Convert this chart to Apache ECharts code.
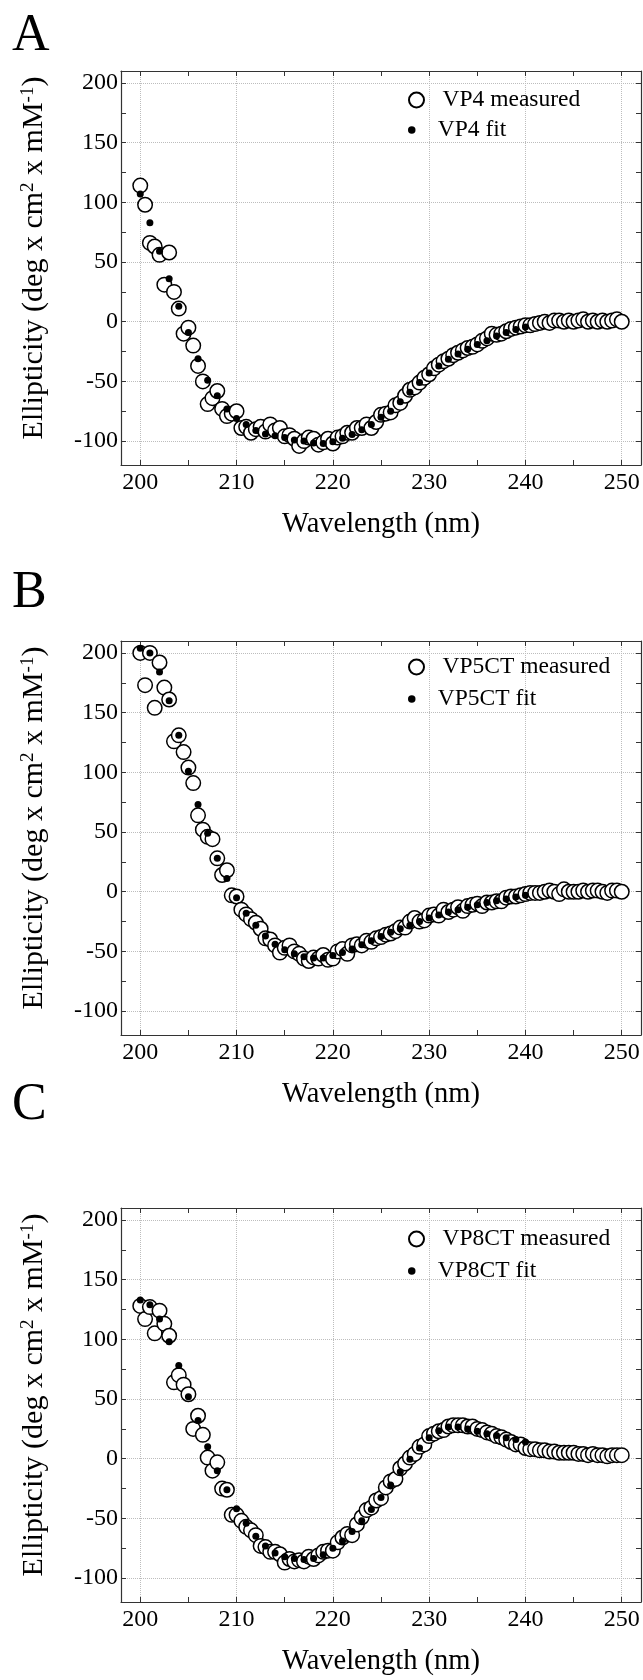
<!DOCTYPE html>
<html>
<head>
<meta charset="utf-8">
<title>CD spectra</title>
<script src="https://cdn.jsdelivr.net/npm/echarts@6/dist/echarts.min.js"></script>
<style>
  html, body { margin: 0; padding: 0; background: #fff; }
  #chart { width: 643px; height: 1680px; }
</style>
</head>
<body>
<div id="chart"></div>
<script>
// wavelengths (nm) of the measured spectra, 0.5 nm steps
var wlMeasured = [
  200, 200.5, 201, 201.5, 202, 202.5, 203, 203.5, 204, 204.5,
  205, 205.5, 206, 206.5, 207, 207.5, 208, 208.5, 209, 209.5,
  210, 210.5, 211, 211.5, 212, 212.5, 213, 213.5, 214, 214.5,
  215, 215.5, 216, 216.5, 217, 217.5, 218, 218.5, 219, 219.5,
  220, 220.5, 221, 221.5, 222, 222.5, 223, 223.5, 224, 224.5,
  225, 225.5, 226, 226.5, 227, 227.5, 228, 228.5, 229, 229.5,
  230, 230.5, 231, 231.5, 232, 232.5, 233, 233.5, 234, 234.5,
  235, 235.5, 236, 236.5, 237, 237.5, 238, 238.5, 239, 239.5,
  240, 240.5, 241, 241.5, 242, 242.5, 243, 243.5, 244, 244.5,
  245, 245.5, 246, 246.5, 247, 247.5, 248, 248.5, 249, 249.5,
  250
];
// wavelengths of the fitted curves, 1 nm steps
var wlFit = [
  200, 201, 202, 203, 204, 205, 206, 207, 208, 209,
  210, 211, 212, 213, 214, 215, 216, 217, 218, 219,
  220, 221, 222, 223, 224, 225, 226, 227, 228, 229,
  230, 231, 232, 233, 234, 235, 236, 237, 238, 239,
  240
];

var vp4Measured = [
  114, 98, 66, 63, 56, 31, 58, 25, 11, -10,
  -5, -20, -37, -50, -69, -64, -58, -73, -79, -77,
  -75, -89, -88, -93, -90, -88, -92, -86, -91, -89,
  -96, -95, -98, -104, -100, -97, -98, -103, -101, -98,
  -102, -97, -96, -93, -93, -89, -89, -86, -89, -84,
  -78, -77, -76, -70, -68, -62, -57, -55, -51, -47,
  -44, -39, -36, -33, -31, -28, -26, -24, -22, -21,
  -19, -16, -14, -10, -11, -10, -8, -6, -5, -4,
  -3, -3, -2, -1, 0, -1, 1, 1, 0, 1,
  0, 1, 2, 0, 1, 0, 1, 0, 1, 2,
  0
];
var vp4Fit = [
  107, 83, 59, 36, 13, -9, -31, -49, -62, -73,
  -81, -86, -91, -94, -95.5, -97, -99, -100, -101.5, -102,
  -100.5, -97.5, -94.5, -90.5, -86, -80, -75, -67, -59, -51,
  -43, -37, -31.5, -27, -23, -19, -16, -12, -9, -6.5,
  -4.5
];

var vp5Measured = [
  200, 173, 200, 154, 192, 171, 161, 126, 131, 117,
  104, 91, 64, 52, 46, 44, 28, 14, 18, -3,
  -4, -15, -19, -23, -26, -31, -39, -40, -45, -51,
  -47, -45, -50, -52, -56, -58, -55, -56, -53, -57,
  -56, -50, -48, -52, -45, -44, -45, -41, -42, -39,
  -38, -36, -35, -33, -30, -30, -25, -22, -25, -24,
  -20, -19, -20, -15, -17, -15, -13, -16, -12, -11,
  -10, -12, -9, -9, -8, -8, -5, -4, -4, -3,
  -2, -1, -1, -1, 0, 1, 0, -2, 2, 0,
  0, 0, 1, 0, 1, 1, 0, -1, 1, 1,
  0
];
var vp5Fit = [
  204, 200, 184, 160, 131, 101, 73, 49, 28, 11,
  -5, -18, -28, -37, -44, -48.5, -52, -54.5, -55.5, -55.5,
  -53.5, -51, -48, -44.5, -41, -37.5, -34, -31, -28, -25,
  -22, -19.5, -17, -15, -13, -11, -9, -7.5, -6, -4.5,
  -3
];

var vp8Measured = [
  128, 117, 127, 105, 124, 113, 103, 64, 70, 62,
  54, 25, 36, 20, 1, -10, -3, -25, -26, -47,
  -47, -52, -57, -60, -64, -73, -74, -78, -78, -80,
  -87, -84, -86, -85, -86, -82, -84, -81, -78, -77,
  -77, -70, -66, -63, -64, -55, -49, -43, -41, -35,
  -33, -24, -19, -17, -8, -4, 1, 4, 10, 12,
  19, 21, 23, 24, 27, 28, 28, 28, 27, 27,
  25, 24, 22, 21, 19, 18, 16, 14, 12, 12,
  9, 8, 8, 7, 7, 6, 6, 5, 5, 5,
  5, 4, 4, 3, 4, 3, 3, 2, 3, 3,
  3
];
var vp8Fit = [
  133, 129, 117, 98, 78, 52, 32, 10, -10, -26,
  -42, -54, -65, -73, -79, -82, -83.5, -84.5, -83.5, -80.5,
  -75, -69, -61, -52, -42.5, -32.5, -22, -11, -0.5, 9,
  17.5, 23.5, 26.5, 26.5, 25, 23, 21, 19.5, 17.5, 16,
  14
];

var serif = 'Liberation Serif';
var axisColor = '#333';

var panels = [
  { letter: 'A', label: 'VP4', measured: vp4Measured, fit: vp4Fit, top: 71, letterTop: 10, rows: [100, 130] },
  { letter: 'B', label: 'VP5CT', measured: vp5Measured, fit: vp5Fit, top: 641, letterTop: 567, rows: [667, 699] },
  { letter: 'C', label: 'VP8CT', measured: vp8Measured, fit: vp8Fit, top: 1208, letterTop: 1079, rows: [1239, 1271] }
];

function pairs (xs, ys) {
  return xs.map(function (x, i) { return [x, ys[i]] })
}

var chart = echarts.init(document.getElementById('chart'))
var option = {
  animation: false,
  backgroundColor: '#fff',
  title: [],
  grid: [],
  xAxis: [],
  yAxis: [],
  legend: [],
  series: []
}

panels.forEach(function (p, i) {
  option.title.push({
    text: p.letter,
    left: 12,
    top: p.letterTop,
    padding: 0,
    textStyle: { fontFamily: serif, fontSize: 52, fontWeight: 'normal', color: '#000' }
  })
  option.grid.push({ left: 121, top: p.top, width: 520, height: 394, outerBoundsMode: 'none' })

  // bottom axis: labels + grid lines every 10 nm
  option.xAxis.push({
    type: 'value', gridIndex: i, position: 'bottom', min: 198, max: 252, splitNumber: 5,
    name: 'Wavelength (nm)', nameLocation: 'middle', nameGap: 45,
    nameTextStyle: { fontFamily: serif, fontSize: 28.5, color: '#000' },
    axisLine: { show: true, onZero: false, lineStyle: { color: axisColor, width: 1.2 } },
    axisTick: { show: true, inside: true, length: 5, lineStyle: { color: axisColor } },
    minorTick: { show: true, splitNumber: 2, length: 5, lineStyle: { color: axisColor } },
    axisLabel: {
      margin: 6, fontFamily: serif, fontSize: 24, color: '#000',
      formatter: function (v) { return v % 10 === 0 ? String(v) : '' }
    },
    splitLine: { show: true, lineStyle: { type: 'dotted', color: '#bdbdbd', width: 1 } }
  })
  // top mirror axis (ticks only)
  option.xAxis.push({
    type: 'value', gridIndex: i, position: 'top', min: 198, max: 252, splitNumber: 5,
    axisLine: { show: true, onZero: false, lineStyle: { color: axisColor, width: 1.2 } },
    axisTick: { show: true, inside: true, length: 5, lineStyle: { color: axisColor } },
    minorTick: { show: true, splitNumber: 2, length: 5, lineStyle: { color: axisColor } },
    axisLabel: { show: false },
    splitLine: { show: false }
  })
  // left axis
  option.yAxis.push({
    type: 'value', gridIndex: i, position: 'left', min: -120, max: 210, splitNumber: 6,
    name: 'Ellipticity (deg x cm{sup|2} x mM{sup|-1})',
    nameLocation: 'middle', nameRotate: 90, nameGap: 72,
    nameTextStyle: {
      fontFamily: serif, fontSize: 30, color: '#000', padding: [0, 0, 0, 20],
      rich: { sup: { fontFamily: serif, fontSize: 19, color: '#000', verticalAlign: 'top' } }
    },
    axisLine: { show: true, onZero: false, lineStyle: { color: axisColor, width: 1.2 } },
    axisTick: { show: true, inside: true, length: 5, lineStyle: { color: axisColor } },
    minorTick: { show: true, splitNumber: 2, length: 5, lineStyle: { color: axisColor } },
    axisLabel: {
      margin: 3, fontFamily: serif, fontSize: 24, color: '#000',
      formatter: function (v) { return v % 50 === 0 ? String(v) : '' }
    },
    splitLine: { show: true, lineStyle: { type: 'dotted', color: '#bdbdbd', width: 1 } }
  })
  // right mirror axis
  option.yAxis.push({
    type: 'value', gridIndex: i, position: 'right', min: -120, max: 210, splitNumber: 6,
    axisLine: { show: true, onZero: false, lineStyle: { color: axisColor, width: 1.2 } },
    axisTick: { show: true, inside: true, length: 5, lineStyle: { color: axisColor } },
    minorTick: { show: true, splitNumber: 2, length: 5, lineStyle: { color: axisColor } },
    axisLabel: { show: false },
    splitLine: { show: false }
  })

  option.series.push({
    name: p.label + ' measured',
    type: 'scatter',
    xAxisIndex: 2 * i,
    yAxisIndex: 2 * i,
    data: pairs(wlMeasured, p.measured),
    symbol: 'circle',
    symbolSize: 14.5,
    itemStyle: { color: '#fff', borderColor: '#000', borderWidth: 1.5, opacity: 1 },
    emphasis: { disabled: true },
    z: 2
  })
  option.series.push({
    name: p.label + ' fit',
    type: 'scatter',
    xAxisIndex: 2 * i,
    yAxisIndex: 2 * i,
    data: pairs(wlFit, p.fit),
    symbol: 'circle',
    symbolSize: 7,
    itemStyle: { color: '#000', opacity: 1 },
    emphasis: { disabled: true },
    z: 3
  })

  var legendText = { fontFamily: serif, fontSize: 23.5, color: '#000', lineHeight: 24 }
  option.legend.push({
    data: [p.label + ' measured'], left: 408, top: p.rows[0] - 12, padding: 0,
    itemWidth: 42, itemHeight: 15, textStyle: legendText, selectedMode: false
  })
  option.legend.push({
    data: [p.label + ' fit'], left: 408, top: p.rows[1] - 12, padding: 0,
    itemWidth: 42, itemHeight: 7.5, textStyle: legendText, selectedMode: false
  })
})

chart.setOption(option)
</script>
</body>
</html>
